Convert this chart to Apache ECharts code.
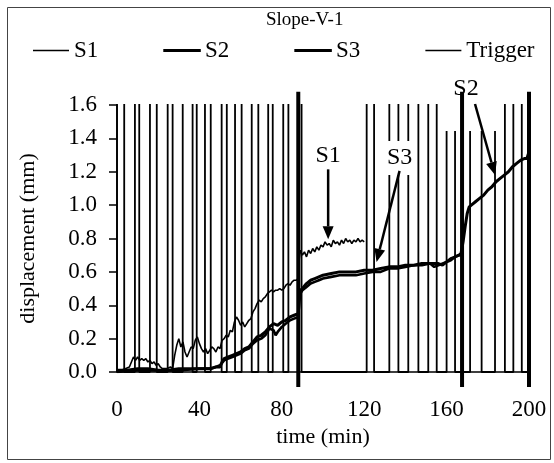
<!DOCTYPE html>
<html>
<head>
<meta charset="utf-8">
<script src="https://cdn.jsdelivr.net/npm/echarts@6/dist/echarts.min.js"></script>
<style>
  html, body { margin: 0; padding: 0; background: #fff; }
  #chart { width: 554px; height: 463px; }
</style>
</head>
<body>
<div id="chart"></div>
<script>
// ---- data -------------------------------------------------------------
const timeTicks = [0, 40, 80, 120, 160, 200];
const dispTicks = [0, 0.2, 0.4, 0.6, 0.8, 1.0, 1.2, 1.4, 1.6];

// S1 displacement (mm) vs time (min)
const s1Time = [0, 2, 4, 6, 7, 8, 9, 10, 11, 12, 13, 14, 15, 16, 17, 18, 19, 20, 21, 22, 24, 26, 27,
  28, 29, 30, 31, 32, 33, 34, 35, 36, 37, 38, 39, 40, 41, 42, 43, 44, 45, 46, 47, 48, 49, 50,
  51, 52, 53, 54, 55, 56, 57, 58, 59, 60, 61, 62, 63, 64, 65, 66, 67, 68, 69, 70, 71, 72, 73,
  74, 75, 76, 77, 78, 79, 80, 81, 82, 83, 84, 85, 86, 87, 88, 88.5, 89, 90, 91, 92, 93, 94, 95,
  96, 97, 98, 99, 100, 101, 102, 103, 104, 105, 106, 107, 108, 109, 110, 111, 112, 113, 114,
  115, 116, 117, 118, 119, 120];
const s1Disp = [0.01, 0.01, 0.02, 0.03, 0.06, 0.09, 0.07, 0.09, 0.07, 0.08, 0.07, 0.08, 0.06, 0.07,
  0.05, 0.06, 0.04, 0.05, 0.03, 0.02, 0.02, 0.03, 0.02,
  0.10, 0.16, 0.20, 0.15, 0.18, 0.12, 0.09, 0.12, 0.15, 0.14, 0.19, 0.21, 0.17, 0.14, 0.12, 0.14,
  0.11, 0.13, 0.15, 0.14, 0.12, 0.15, 0.14,
  0.19, 0.20, 0.22, 0.21, 0.25, 0.24, 0.30, 0.33, 0.31, 0.28, 0.30, 0.27, 0.29, 0.31, 0.32, 0.36,
  0.38, 0.41, 0.43, 0.42, 0.44, 0.45, 0.47,
  0.48, 0.49, 0.48, 0.49, 0.49, 0.50, 0.49, 0.50, 0.52, 0.53, 0.52, 0.54, 0.55, 0.55, 0.56, 0.68,
  0.73, 0.70, 0.72, 0.69, 0.73, 0.71, 0.74,
  0.72, 0.75, 0.73, 0.76, 0.75, 0.78, 0.76, 0.77, 0.75, 0.79, 0.77, 0.78, 0.76, 0.79, 0.77, 0.80,
  0.78, 0.79, 0.77, 0.79, 0.78, 0.80, 0.78, 0.79, 0.78];

// S2 displacement (mm) vs time (min)
const s2Time = [0, 5, 10, 15, 20, 25, 30, 35, 40, 45, 48, 50, 51, 52, 54, 56, 58, 60, 62, 64, 66,
  68, 70, 72, 74, 76, 78, 80, 82, 84, 86, 88, 88.5, 89, 90, 92, 94, 96, 98, 100, 104, 108, 112,
  116, 120, 124, 128, 132, 136, 140, 144, 148, 152, 156, 158, 160, 162, 164, 166, 167, 168, 169,
  170, 171, 172, 174, 176, 178, 180, 182, 184, 186, 188, 190, 192, 194, 196, 198, 199, 200];
const s2Disp = [0.01, 0.01, 0.02, 0.02, 0.01, 0.01, 0.02, 0.02, 0.02, 0.02, 0.03, 0.03, 0.06, 0.08,
  0.09, 0.10, 0.11, 0.12, 0.14, 0.15, 0.18, 0.21, 0.22, 0.24, 0.27, 0.29, 0.28, 0.30, 0.31, 0.33,
  0.34, 0.35, 0.45, 0.49, 0.50, 0.53, 0.55, 0.56, 0.57, 0.58, 0.59, 0.60, 0.60, 0.60, 0.61, 0.61,
  0.62, 0.63, 0.63, 0.64, 0.64, 0.65, 0.65, 0.65, 0.64, 0.66, 0.67, 0.69, 0.70, 0.71, 0.78, 0.87,
  0.95, 0.99, 1.00, 1.02, 1.04, 1.06, 1.09, 1.11, 1.14, 1.16, 1.18, 1.20, 1.23, 1.25, 1.27, 1.28,
  1.28, 1.32];

// S3 displacement (mm) vs time (min)
const s3Time = [0, 10, 20, 30, 40, 46, 50, 52, 54, 56, 58, 60, 62, 64, 66, 68, 70, 72, 74, 76, 77,
  78, 80, 82, 84, 86, 88, 88.5, 89, 90, 92, 94, 96, 98, 100, 104, 108, 112, 116, 120, 124, 128,
  132, 136, 140, 144, 148, 152, 154, 156, 160, 162, 164, 166, 167];
const s3Disp = [0.00, 0.01, 0.01, 0.01, 0.02, 0.02, 0.04, 0.07, 0.08, 0.09, 0.10, 0.11, 0.13, 0.14,
  0.17, 0.19, 0.20, 0.22, 0.26, 0.25, 0.22, 0.24, 0.27, 0.29, 0.31, 0.32, 0.33, 0.42, 0.47, 0.49,
  0.51, 0.53, 0.54, 0.55, 0.56, 0.57, 0.58, 0.58, 0.58, 0.59, 0.60, 0.60, 0.62, 0.62, 0.63, 0.64,
  0.64, 0.65, 0.63, 0.64, 0.66, 0.68, 0.69, 0.70, 0.70];

// trigger switching times (min); the signal alternates on/off at each one, starting on
const triggerEdges = [0, 3.5, 8.7, 10.8, 16, 19.3, 24.6, 27, 31.9, 36.7, 38.7, 42.7, 45.5, 50.8,
  53.3, 57.3, 60.5, 65.4, 68.6, 73.4, 75.6, 80.7, 83.2, 89.6, 121.2, 124.8, 132.2, 136.6, 141.4,
  146.3, 151.1, 155.2, 160, 164.1, 171.4, 177, 183.5, 188.3, 192.4, 196.5];
const triggerLevels = [0, 2.0];   // off / on (on runs off the top of the scale)

// stage boundaries (min)
const stageTimes = [88, 167.5, 200];

// ---- derived ----------------------------------------------------------
const pairs = (ts, vs) => ts.map((t, i) => [t, vs[i]]);
const curves = {
  S1: { t: s1Time, v: s1Disp },
  S2: { t: s2Time, v: s2Disp },
  S3: { t: s3Time, v: s3Disp }
};

const triggerData = [];
let on = false;
triggerEdges.forEach(t => {
  triggerData.push([t, triggerLevels[on ? 1 : 0]]);
  on = !on;
  triggerData.push([t, triggerLevels[on ? 1 : 0]]);
});
triggerData.push([timeTicks[timeTicks.length - 1], triggerLevels[on ? 1 : 0]]);

function valueAt(ts, vs, t) {
  for (let i = 1; i < ts.length; i++) {
    if (t <= ts[i]) {
      const f = (t - ts[i - 1]) / (ts[i] - ts[i - 1]);
      return vs[i - 1] + f * (vs[i] - vs[i - 1]);
    }
  }
  return vs[vs.length - 1];
}

// callouts: label placed relative to the arrow tip on its curve;
// box = [left, top, right, bottom] around the label centre, tail = arrow start offset
const notes = [
  { label: 'S1', curve: 'S1', t: 102.5, gap: 5,  dx: 0,   dy: -84,  box: [-15, -17, 15, 17], tail: [0, 14] },
  { label: 'S3', curve: 'S3', t: 126,   gap: 10, dx: 23,  dy: -104, box: [-15, -17, 15, 17], tail: [0, 13] },
  { label: 'S2', curve: 'S2', t: 183.5, gap: 8,  dx: -29, dy: -86,  box: [-25, -16, 34, 42], tail: [9, 15] }
];

const serif = '"Liberation Serif", "Times New Roman", serif';
const ink = '#000';

const chart = echarts.init(document.getElementById('chart'));
chart.setOption({
  animation: false,
  backgroundColor: '#fff',
  graphic: [{
    type: 'rect', left: 5, top: 5, z: -10,
    shape: { width: 543, height: 452 },
    style: { fill: 'none', stroke: '#444', lineWidth: 1 }
  }],
  title: {
    text: 'Slope-V-1',
    left: 261, top: 6,
    textStyle: { fontFamily: serif, fontSize: 19, fontWeight: 'normal', color: ink }
  },
  legend: {
    data: [
      { name: 'S1', icon: 'rect' },
      { name: 'S2', icon: 'rect', itemStyle: { borderColor: ink, borderWidth: 1.5 } },
      { name: 'S3', icon: 'rect', itemStyle: { borderColor: ink, borderWidth: 1.5 } },
      { name: 'Trigger', icon: 'rect' }
    ],
    left: 28, top: 34,
    itemWidth: 36, itemHeight: 1.6, itemGap: 65,
    textStyle: { fontFamily: serif, fontSize: 23, color: ink },
    selectedMode: false
  },
  grid: { left: 117, right: 25, top: 105, bottom: 91 },
  xAxis: {
    type: 'value', min: 0, max: 200, interval: 40,
    name: 'time (min)', nameLocation: 'middle', nameGap: 54,
    nameTextStyle: { fontFamily: serif, fontSize: 22, color: ink },
    axisLine: { lineStyle: { color: ink, width: 1.5 } },
    axisTick: { show: false },
    splitLine: { show: false },
    axisLabel: { fontFamily: serif, fontSize: 23, color: ink, margin: 26 }
  },
  yAxis: {
    type: 'value', min: 0, max: 1.6, interval: 0.2,
    name: 'displacement (mm)', nameLocation: 'middle', nameGap: 78, nameRotate: 90,
    nameTextStyle: { fontFamily: serif, fontSize: 22, color: ink },
    axisLine: { show: true, lineStyle: { color: ink, width: 1.5 } },
    axisTick: { show: true, inside: false, length: 8, lineStyle: { color: ink, width: 1.5 } },
    splitLine: { show: false },
    axisLabel: {
      fontFamily: serif, fontSize: 23, color: ink, margin: 20,
      formatter: v => v.toFixed(1)
    }
  },
  series: [
    {
      name: 'Trigger', type: 'line', data: triggerData, symbol: 'none', z: 2,
      lineStyle: { color: ink, width: 1.8 }, itemStyle: { color: ink }
    },
    {
      name: 'callouts', type: 'custom', z: 3, clip: false, silent: true,
      data: notes.map(n => [n.t, 0]),
      encode: { x: 0, y: 1 },
      renderItem: (params, api) => {
        const n = notes[params.dataIndex];
        const c = curves[n.curve];
        const p = api.coord([n.t, valueAt(c.t, c.v, n.t)]);
        const tip = [p[0], p[1] - n.gap];
        const cx = tip[0] + n.dx, cy = tip[1] + n.dy;
        const tail = [cx + n.tail[0], cy + n.tail[1]];
        const ang = Math.atan2(tip[1] - tail[1], tip[0] - tail[0]);
        const L = 13, W = 5.5;
        const base = [tip[0] - L * Math.cos(ang), tip[1] - L * Math.sin(ang)];
        const left = [base[0] + W * Math.sin(ang), base[1] - W * Math.cos(ang)];
        const right = [base[0] - W * Math.sin(ang), base[1] + W * Math.cos(ang)];
        return {
          type: 'group',
          children: [
            { type: 'rect',
              shape: { x: cx + n.box[0], y: cy + n.box[1], width: n.box[2] - n.box[0], height: n.box[3] - n.box[1] },
              style: { fill: '#fff' } },
            { type: 'text', style: { text: n.label, x: cx, y: cy, align: 'center', verticalAlign: 'middle',
              font: '24px ' + serif, fill: ink } },
            { type: 'line', shape: { x1: tail[0], y1: tail[1], x2: base[0], y2: base[1] },
              style: { stroke: ink, lineWidth: 2.5 } },
            { type: 'polygon', shape: { points: [tip, left, right] }, style: { fill: ink } }
          ]
        };
      }
    },
    {
      name: 'stages', type: 'custom', z: 4, clip: false, silent: true,
      data: stageTimes.map(t => [t, 0]),
      encode: { x: 0, y: 1 },
      renderItem: (params, api) => {
        const t = api.value(0);
        const a = api.coord([t, -0.09]);
        const b = api.coord([t, 1.68]);
        return { type: 'line', shape: { x1: a[0], y1: a[1], x2: b[0], y2: b[1] },
          style: { stroke: ink, lineWidth: 4 } };
      }
    },
    {
      name: 'S1', type: 'line', data: pairs(s1Time, s1Disp), symbol: 'none', z: 5,
      lineStyle: { color: ink, width: 1.6 }, itemStyle: { color: ink }
    },
    {
      name: 'S2', type: 'line', data: pairs(s2Time, s2Disp), symbol: 'none', z: 5,
      lineStyle: { color: ink, width: 3 }, itemStyle: { color: ink }
    },
    {
      name: 'S3', type: 'line', data: pairs(s3Time, s3Disp), symbol: 'none', z: 5,
      lineStyle: { color: ink, width: 2.6 }, itemStyle: { color: ink }
    }
  ]
});
</script>
</body>
</html>
